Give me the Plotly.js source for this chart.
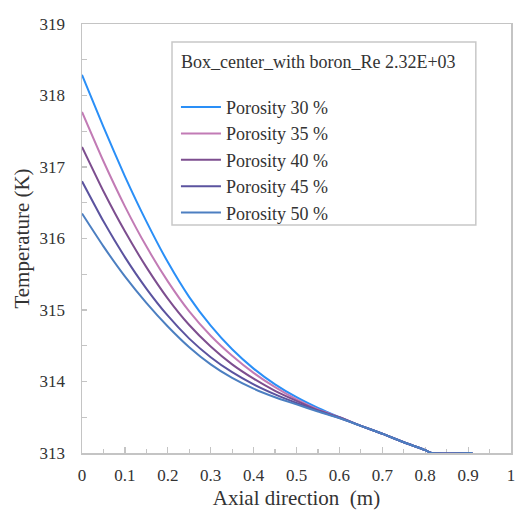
<!DOCTYPE html>
<html>
<head>
<meta charset="utf-8">
<script src="https://cdn.plot.ly/plotly-3.0.1.min.js"></script>
<style>html,body{margin:0;padding:0;background:#fff;}#chart{width:516px;height:510px;}</style>
</head>
<body>
<div id="chart"></div>
<script>
const axial = [0, 0.05, 0.1, 0.15, 0.2, 0.25, 0.3, 0.35, 0.4, 0.45, 0.5, 0.55, 0.6, 0.65, 0.7, 0.75, 0.8, 0.815, 0.91];
const por30 = [318.29, 317.56, 316.87, 316.24, 315.67, 315.18, 314.78, 314.45, 314.18, 313.96, 313.78, 313.63, 313.50, 313.38, 313.27, 313.15, 313.04, 313.0, 313.0];
const por35 = [317.77, 317.08, 316.45, 315.89, 315.40, 314.98, 314.64, 314.36, 314.12, 313.92, 313.75, 313.61, 313.50, 313.38, 313.27, 313.15, 313.04, 313.0, 313.0];
const por40 = [317.28, 316.66, 316.10, 315.60, 315.16, 314.79, 314.49, 314.24, 314.04, 313.87, 313.73, 313.60, 313.50, 313.38, 313.27, 313.15, 313.04, 313.0, 313.0];
const por45 = [316.80, 316.24, 315.74, 315.30, 314.92, 314.60, 314.34, 314.13, 313.96, 313.82, 313.70, 313.59, 313.49, 313.38, 313.27, 313.15, 313.04, 313.0, 313.0];
const por50 = [316.35, 315.89, 315.47, 315.10, 314.77, 314.48, 314.24, 314.05, 313.90, 313.78, 313.68, 313.58, 313.49, 313.38, 313.27, 313.15, 313.04, 313.0, 313.0];
const seriesNames = ['Porosity 30 %', 'Porosity 35 %', 'Porosity 40 %', 'Porosity 45 %', 'Porosity 50 %'];
const seriesColors = ['#2a8ff7', '#c27bb5', '#7d4e8f', '#5b539f', '#4c7fc1'];
const legendTitle = 'Box_center_with boron_Re 2.32E+03';

const allSeries = [por30, por35, por40, por45, por50];
const traces = allSeries.map((ys, i) => ({
  x: axial, y: ys, type: 'scatter', mode: 'lines',
  name: seriesNames[i],
  line: {color: seriesColors[i], width: 2, shape: 'spline', smoothing: 0.5}
}));

const font = 'Liberation Serif';
const axisCol = '#c4c4c4';
const txt = '#333';
const layout = {
  width: 516, height: 510,
  margin: {l: 82, r: 5, t: 24, b: 57},
  paper_bgcolor: '#fff', plot_bgcolor: '#fff',
  font: {family: font, color: txt},
  showlegend: true,
  legend: {
    x: 0.219, y: 0.849, xanchor: 'left', yanchor: 'top',
    bgcolor: 'rgba(0,0,0,0)', borderwidth: 0,
    font: {family: font, size: 18, color: txt},
    itemwidth: 40,
    tracegroupgap: 0
  },
  xaxis: {
    range: [0, 1], dtick: 0.1, tick0: 0,
    ticks: 'inside', ticklen: 6, tickcolor: axisCol, tickwidth: 1.2,
    minor: {dtick: 0.05, ticks: 'inside', ticklen: 4, tickcolor: axisCol, tickwidth: 1.2},
    showline: true, linecolor: axisCol, linewidth: 1.5, mirror: true,
    showgrid: false, zeroline: false,
    tickfont: {family: font, size: 17, color: txt},
    ticklabelstandoff: 6,
    title: {text: 'Axial direction\u00a0 (m)', font: {family: font, size: 21, color: txt}, standoff: 13},
    layer: 'below traces'
  },
  yaxis: {
    range: [313, 319], dtick: 1, tick0: 313,
    ticks: 'inside', ticklen: 5, tickcolor: axisCol, tickwidth: 1.2,
    minor: {dtick: 0.5, ticks: 'inside', ticklen: 5, tickcolor: axisCol, tickwidth: 1.2},
    showline: true, linecolor: axisCol, linewidth: 1.5, mirror: true,
    showgrid: false, zeroline: false,
    tickfont: {family: font, size: 17, color: txt},
    ticklabelstandoff: 12,
    title: {text: 'Temperature (K)', font: {family: font, size: 21, color: txt}, standoff: 4},
    layer: 'below traces'
  },
  shapes: [{
    type: 'rect', xref: 'paper', yref: 'paper',
    x0: 0.2098, x1: 0.918, y0: 0.5315, y1: 0.958,
    line: {color: '#c8c8c8', width: 1.5}, fillcolor: 'rgba(0,0,0,0)', layer: 'above'
  }],
  annotations: [{
    xref: 'paper', yref: 'paper', x: 0.226, y: 0.911, xanchor: 'left', yanchor: 'middle',
    text: legendTitle, showarrow: false,
    font: {family: font, size: 18, color: txt}
  }]
};

Plotly.newPlot('chart', traces, layout, {displayModeBar: false, staticPlot: true});
</script>
</body>
</html>
